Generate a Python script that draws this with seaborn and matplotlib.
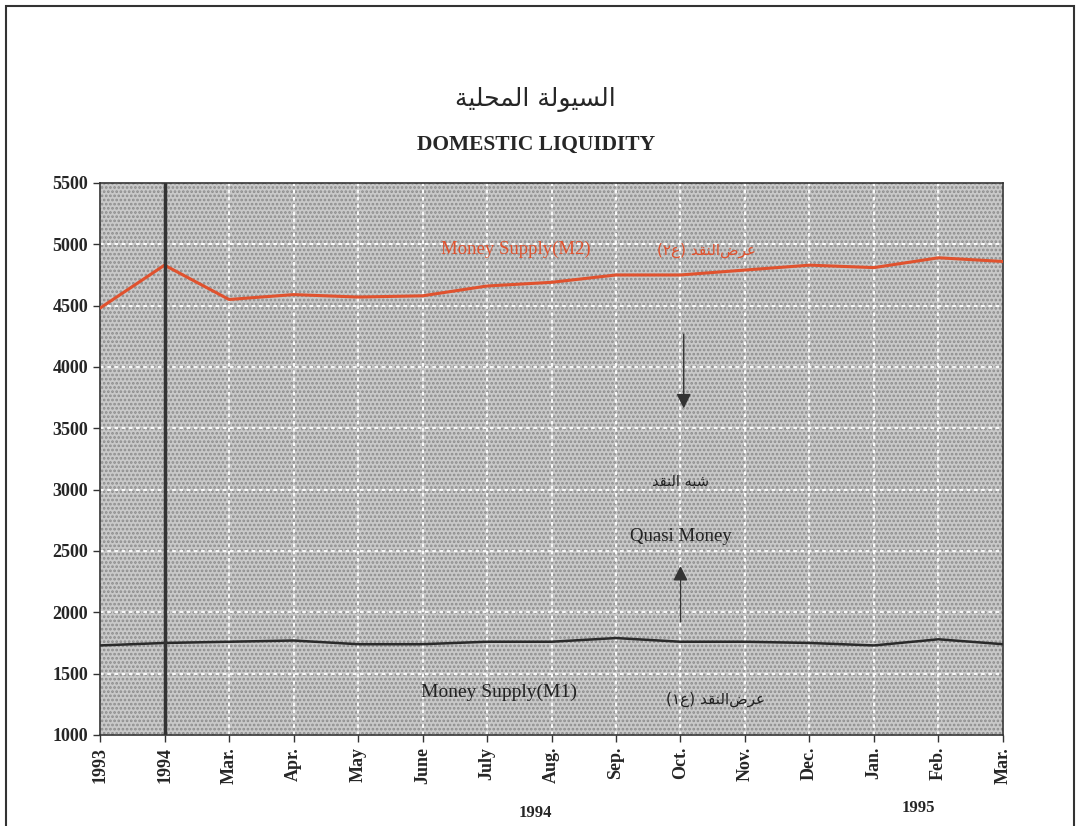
import matplotlib
matplotlib.use("Agg")
import matplotlib.pyplot as plt
from matplotlib.patches import Rectangle
import seaborn as sns
import pandas as pd

# Domestic liquidity, end of period
periods = ["1993", "1994", "Mar.", "Apr.", "May", "June", "July", "Aug.",
           "Sep.", "Oct.", "Nov.", "Dec.", "Jan.", "Feb.", "Mar."]
m2 = [4480, 4830, 4550, 4590, 4570, 4580, 4660, 4690, 4750, 4750, 4790, 4830, 4810, 4890, 4860]
m1 = [1730, 1750, 1760, 1770, 1740, 1740, 1760, 1760, 1790, 1760, 1760, 1750, 1730, 1780, 1740]
yticks = [1000, 1500, 2000, 2500, 3000, 3500, 4000, 4500, 5000, 5500]

# arabic text, pre-shaped (presentation forms, visual order)
ar_title = "\uFE94\uFEF4\uFEE0\uFEA4\uFEE4\uFEDF\uFE8D \uFE94\uFEDF\uFEEE\uFEF4\uFEB4\uFEDF\uFE8D"
naqd = "\uFEAA\uFED8\uFEE8\uFEDF\uFE8D"
ar_m2 = "(\u0662\uFEC9) " + naqd + "\uFEBD\uFEAE\uFECB"
ar_m1 = "(\u0661\uFEC9) " + naqd + "\uFEBD\uFEAE\uFECB"
ar_quasi = naqd + " \uFEEA\uFE92\uFEB7"

df = pd.DataFrame({"idx": range(len(periods)), "m2": m2, "m1": m1})

sns.set_style("white")
plt.rcParams["font.family"] = ["Liberation Serif", "DejaVu Sans"]

fig = plt.figure(figsize=(10.78, 8.26), dpi=100)
ax = fig.add_axes([0.0928, 0.1102, 0.8376, 0.6683])

# dotted grey screen
ax.set_facecolor("#c9c9c9")
plt.rcParams["hatch.linewidth"] = 1.3
ax.add_patch(Rectangle((0, 0), 1, 1, transform=ax.transAxes, facecolor="none",
                       edgecolor="#8c8c8c", hatch="....", lw=0, zorder=0))

sns.lineplot(data=df, x="idx", y="m2", ax=ax, color="#e0522e", lw=2.2, zorder=3)
sns.lineplot(data=df, x="idx", y="m1", ax=ax, color="#2a2a2a", lw=1.8, zorder=3)
ax.axvline(1, color="#333333", lw=2.5, zorder=4)

ax.set_xlim(0, len(periods) - 1)
ax.set_ylim(1000, 5500)
ax.set_yticks(yticks)
ax.set_xticks(range(len(periods)))
ax.set_xticklabels(periods, rotation=90, fontsize=13, fontweight="bold")
ax.set_yticklabels([str(v) for v in yticks], fontsize=13, fontweight="bold")
ax.set_xlabel("")
ax.set_ylabel("")
ax.grid(True, color="white", ls=(0, (2, 2)), lw=1.3)
ax.tick_params(axis="both", direction="out", length=5, width=1, color="#333333", left=True, bottom=True)
for s in ax.spines.values():
    s.set_color("#333333")
    s.set_linewidth(1.2)

# annotations
ax.text(6.45, 4960, "Money Supply(M2)", color="#e0522e", fontsize=13.5, ha="center", va="center")
ax.text(9.4, 4950, ar_m2, color="#e0522e", fontsize=11, ha="center", va="center", family=["DejaVu Sans"])
ax.text(9.0, 3065, ar_quasi, color="#222222", fontsize=10.5, ha="center", va="center", family=["DejaVu Sans"])
ax.text(9.0, 2620, "Quasi Money", color="#222222", fontsize=13.5, ha="center", va="center")
ax.text(6.19, 1350, "Money Supply(M1)", color="#222222", fontsize=14, ha="center", va="center")
ax.text(9.55, 1290, ar_m1, color="#222222", fontsize=11, ha="center", va="center", family=["DejaVu Sans"])
ax.annotate("", xy=(9.05, 3640), xytext=(9.05, 4290),
            arrowprops=dict(arrowstyle="-|>", color="#333333", lw=1, mutation_scale=22))
ax.annotate("", xy=(9.0, 2400), xytext=(9.0, 1900),
            arrowprops=dict(arrowstyle="-|>", color="#333333", lw=1, mutation_scale=22))

# titles and year captions
fig.text(0.497, 0.879, ar_title, fontsize=18, ha="center", va="center", family=["DejaVu Sans"])
fig.text(0.497, 0.825, "DOMESTIC LIQUIDITY", fontsize=15.5, ha="center", va="center", fontweight="bold")
fig.text(0.497, 0.016, "1994", fontsize=12, ha="center", va="center", fontweight="bold")
fig.text(0.852, 0.022, "1995", fontsize=12, ha="center", va="center", fontweight="bold")

# page frame
fig.patches.append(Rectangle((0.006, -0.05), 0.990, 1.043, transform=fig.transFigure,
                             fill=False, edgecolor="#333333", lw=1.5))

fig.savefig("out.png", dpi=100)
